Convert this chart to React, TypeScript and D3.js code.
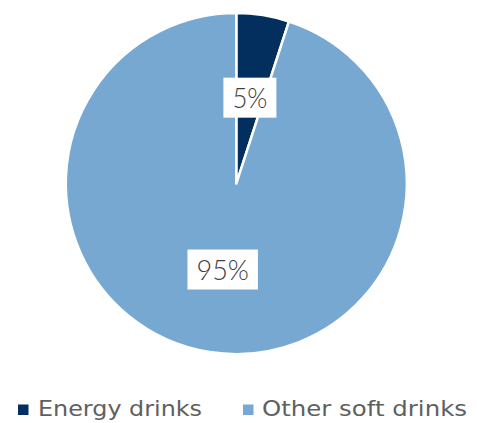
import React from "react";
import * as d3 from "d3";

const categories = ["Energy drinks", "Other soft drinks"];
const values = [5, 95];
const labels = ["5%", "95%"];
const colors = ["#022F5E", "#76A8D1"];

const W = 477;
const H = 423;

export default function App() {
  const cx = 236.3;
  const cy = 183.6;
  const r = 170.5;
  const pie = d3.pie<number>().sort(null).startAngle(0).endAngle(2 * Math.PI);
  const arcs = pie(values);
  const arc = d3.arc<d3.PieArcDatum<number>>().innerRadius(0).outerRadius(r);
  const legendFont = "'DejaVu Sans', sans-serif";
  const labelFont = "Lato, 'DejaVu Sans', sans-serif";

  const legendX = d3.scaleOrdinal<string, number>().domain(categories).range([18, 243]);

  return (
    <svg width={W} height={H} style={{ position: "absolute", left: 0, top: 0, background: "#fff" }}>
      <g transform={`translate(${cx},${cy})`}>
        {arcs.map((a, i) => (
          <path key={i} d={arc(a) || ""} fill={colors[i]} stroke="#fff" strokeWidth={2.5} strokeLinejoin="round" />
        ))}
        {arcs.map((a, i) => {
          const mid = (a.startAngle + a.endAngle) / 2;
          const x = Math.sin(mid) * 87;
          const y = -Math.cos(mid) * 87;
          const tl = labels[i].length * 17.5;
          return (
            <g key={"l" + i} transform={`translate(${x},${y})`}>
              <rect x={-tl / 2 - 9} y={-20} width={tl + 18} height={40} fill="#fff" />
              <text
                x={0}
                y={10.5}
                textAnchor="middle"
                fontFamily={labelFont}
                fontSize={28}
                fontWeight={300}
                fill="#404040"
                textLength={tl}
                lengthAdjust="spacingAndGlyphs"
              >
                {labels[i]}
              </text>
            </g>
          );
        })}
      </g>
      {categories.map((c, i) => {
        const x0 = legendX(c);
        const tx = i === 0 ? x0 + 20 : x0 + 19;
        const tl = i === 0 ? 164 : 205;
        return (
          <g key={"lg" + i}>
            <rect x={x0} y={404.5} width={10.5} height={10.5} fill={colors[i]} />
            <text
              x={tx}
              y={416}
              fontFamily={legendFont}
              fontSize={21}
              fill="#606060"
              textLength={tl}
              lengthAdjust="spacingAndGlyphs"
            >
              {c}
            </text>
          </g>
        );
      })}
    </svg>
  );
}
